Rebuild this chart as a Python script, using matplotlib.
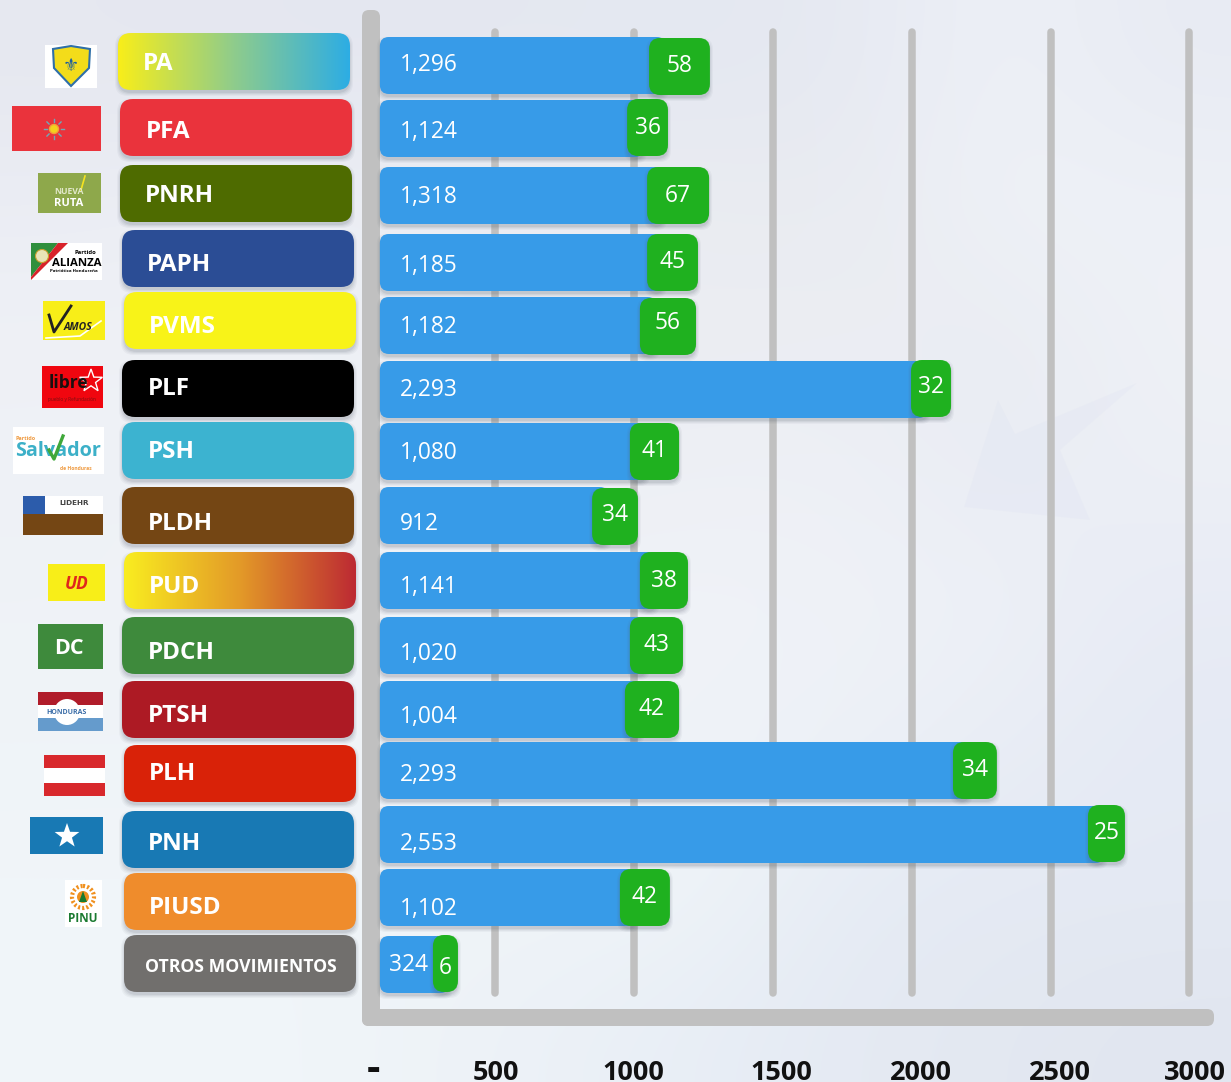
import numpy as np
import matplotlib
matplotlib.use("Agg")
import matplotlib.pyplot as plt
from matplotlib.patches import FancyBboxPatch, Rectangle, Circle, Polygon
from matplotlib.colors import LinearSegmentedColormap, to_rgb
from matplotlib.transforms import ScaledTranslation

# ---------- data ----------
parties = ["PA", "PFA", "PNRH", "PAPH", "PVMS", "PLF", "PSH", "PLDH", "PUD", "PDCH",
           "PTSH", "PLH", "PNH", "PIUSD", "OTROS MOVIMIENTOS"]
blue_labels = ["1,296", "1,124", "1,318", "1,185", "1,182", "2,293", "1,080", "912", "1,141",
               "1,020", "1,004", "2,293", "2,553", "1,102", "324"]
green_labels = ["58", "36", "67", "45", "56", "32", "41", "34", "38", "43", "42", "34", "25", "42", "6"]
# extents of the drawn bars, as read on the chart's own axis
green_start = [1055, 976, 1048, 1048, 1022, 1998, 986, 850, 1022, 986, 968, 2149, 2635, 950, 277]
green_end = [1274, 1123, 1271, 1231, 1224, 2142, 1163, 1015, 1195, 1177, 1163, 2307, 2768, 1130, 367]
tick_values = [0, 500, 1000, 1500, 2000, 2500, 3000]
tick_labels = ["-", "500", "1000", "1500", "2000", "2500", "3000"]

# ---------- layout (pixels) ----------
W, H = 1231, 1082
PX_PER_UNIT = 0.2778
X0_PX = 356
BAR_ORIGIN = 86
blue_top = [37, 100, 167, 234, 297, 361, 423, 487, 552, 617, 681, 742, 806, 869, 936]
green_top = [38, 99, 167, 234, 298, 360, 423, 488, 552, 617, 681, 742, 805, 869, 935]
blue_text_y = [65, 132, 197, 266, 327, 390, 453, 524, 587, 654, 717, 775, 844, 909, 965]
green_text_y = [66, 128, 196, 262, 323, 387, 451, 515, 581, 645, 709, 770, 833, 897, 968]
pill_left = [118, 120, 120, 122, 124, 122, 122, 122, 124, 122, 122, 124, 122, 124, 124]
pill_top = [33, 99, 165, 230, 292, 360, 422, 487, 552, 617, 681, 745, 811, 873, 935]
pill_text_x = [143, 146, 145, 147, 149, 148, 148, 148, 149, 148, 148, 149, 148, 149, 145]
pill_text_y = [64, 132, 196, 265, 327, 389, 452, 524, 587, 653, 716, 774, 844, 908, 967]
pill_colors = [None, "#ea333c", "#4e6b00", "#2b4d95", "#f8f318", "#000000", "#3cb3d0", "#744614",
               None, "#3e8a3c", "#ad1a24", "#d92208", "#1879b4", "#ef8c2c", "#716f6d"]
gradients = {0: ["#f8ee1a", "#8fcc8c", "#2dadE4"], 8: ["#f9ed20", "#e39a28", "#bd2a33"]}
BLUE, GREEN, GRID = "#379be8", "#1fb11f", "#c0c0c0"
SANS = "Open Sans"

fig = plt.figure(figsize=(W / 100, H / 100), dpi=100)

# pixel-space canvas for background, party pills and logos
deco = fig.add_axes([0, 0, 1, 1])
deco.set_xlim(0, W)
deco.set_ylim(H, 0)
deco.axis("off")

bg_rows = [
    ["#e6e8f0", "#e5e7f0", "#e4e7f0", "#e5e8f1", "#e4e8f1", "#e6e9f2", "#eef1f7", "#e8ebf3"],
    ["#ebedf4", "#edeff5", "#eceef4", "#eaecf2", "#ebedf2", "#e9ebf1", "#eff2f7", "#eef1f7"],
    ["#eff1f6", "#eff1f6", "#edf0f5", "#ecedf3", "#ebedf2", "#eceef3", "#e9ecf2", "#eff1f6"],
    ["#eef1f6", "#f0f2f7", "#eef1f6", "#edeff4", "#eef0f5", "#eef0f6", "#e9ecf4", "#edf0f6"],
    ["#eff3f7", "#f0f3f8", "#eff2f7", "#eff2f7", "#f0f3f8", "#eff2f7", "#eef1f7", "#e8ebf5"],
    ["#f0f4f8", "#f0f4f8", "#eff3f8", "#eff3f8", "#eff3f8", "#edf1f7", "#e9edf5", "#e5eaf4"],
    ["#f0f5f9", "#f0f5f9", "#f0f4f8", "#f0f5f8", "#f0f5f8", "#e6ecf5", "#e5eaf4", "#e5eaf4"],
    ["#f1f6fa", "#f1f6fa", "#eff4f8", "#ecf1f7", "#e8eef6", "#e5eaf3", "#e3e8f1", "#e1e6f0"],
]
bg = np.array([[to_rgb(c) for c in row] for row in bg_rows])
deco.imshow(bg, extent=(0, W, H, 0), interpolation="bicubic", aspect="auto", zorder=0)
deco.add_patch(Polygon([(964, 507), (998, 400), (1015, 434), (1137, 383), (1060, 450), (1090, 520)],
                       closed=True, facecolor="#dfe3f2", alpha=0.28, linewidth=0, zorder=0.5))
deco.set_xlim(0, W)
deco.set_ylim(H, 0)


def rbox(ax, x, y, w, h, r, aspect=1.0, **kw):
    p = FancyBboxPatch((x, y), w, h, boxstyle=f"round,pad=0,rounding_size={r}",
                       mutation_aspect=aspect, linewidth=0, **kw)
    ax.add_patch(p)
    return p


def shadow(ax, x, y, w, h, r, aspect=1.0, dx=0.0, z=1):
    for grow, a in [(3, 0.05), (2, 0.06), (1, 0.08), (0, 0.10)]:
        rbox(ax, x + dx - grow * (1 if aspect == 1 else 1 / PX_PER_UNIT), y + 3 - grow,
             w + 2 * grow * (1 if aspect == 1 else 1 / PX_PER_UNIT), h + 2 * grow, r, aspect,
             facecolor="#55606e", alpha=a, zorder=z)


# party pills
for i, name in enumerate(parties):
    x, y, w, h = pill_left[i], pill_top[i], 232, 57
    shadow(deco, x, y, w, h, 13, z=1)
    if i in gradients:
        p = rbox(deco, x, y, w, h, 13, facecolor="none", zorder=2)
        cmap = LinearSegmentedColormap.from_list(name, gradients[i])
        im = deco.imshow(np.linspace(0, 1, 256)[None, :], cmap=cmap, extent=(x, x + w, y + h, y),
                         aspect="auto", zorder=2)
        im.set_clip_path(p)
    else:
        rbox(deco, x, y, w, h, 13, facecolor=pill_colors[i], zorder=2)
    small = name.startswith("OTROS")
    deco.text(pill_text_x[i], pill_text_y[i], name, color="white", family=SANS, fontweight="bold",
              fontsize=12.7 if small else 17.5, va="center", ha="left", zorder=3)
deco.set_xlim(0, W)
deco.set_ylim(H, 0)


# ---------- logos ----------
def rect(x0, y0, x1, y1, c, z=3):
    deco.add_patch(Rectangle((x0, y0), x1 - x0, y1 - y0, facecolor=c, linewidth=0, zorder=z))


def star(cx, cy, r, **kw):
    ang = np.deg2rad(np.arange(10) * 36 - 90)
    rad = np.where(np.arange(10) % 2 == 0, r, r * 0.4)
    deco.add_patch(Polygon(np.c_[cx + rad * np.cos(ang), cy + rad * np.sin(ang)], closed=True, **kw))


def logo_text(x, y, s, c, size, **kw):
    deco.text(x, y, s, color=c, fontsize=size, ha="center", va="center", zorder=7, **kw)


# PA
rect(45, 45, 97, 88, "white")
deco.add_patch(Polygon([(53, 49), (71, 46), (90, 49), (89, 68), (71, 86), (54, 68)], closed=True,
                       facecolor="#f3dc1a", edgecolor="#2f6fa8", linewidth=1.5, zorder=4))
logo_text(71, 66, "⚜", "#1f5f9c", 13, family="DejaVu Sans")
# PFA
rect(12, 106, 101, 151, "#ea333c")
deco.add_patch(Circle((54, 129), 4.5, facecolor="#f3d21c", edgecolor="#f2a03a", linewidth=1, zorder=4))
for a in np.deg2rad(np.arange(0, 360, 45)):
    deco.plot([54 + 7 * np.cos(a), 54 + 10 * np.cos(a)], [129 + 7 * np.sin(a), 129 + 10 * np.sin(a)],
              color="#6fa9b8", lw=1, zorder=4)
# PNRH
rect(38, 173, 101, 213, "#8ea84b")
logo_text(69, 192, "NUEVA", "#e3e9cc", 6.2, family=SANS, fontweight="bold")
logo_text(69, 203, "RUTA", "white", 8, family=SANS, fontweight="bold")
deco.plot([81, 85], [190, 176], color="#f5e320", lw=1.2, zorder=5)
# PAPH
rect(31, 243, 102, 280, "white")
deco.add_patch(Polygon([(31, 243), (58, 243), (31, 277)], closed=True, facecolor="#2f8f3c", linewidth=0, zorder=4))
deco.add_patch(Polygon([(58, 243), (68, 243), (31, 280), (31, 277)], closed=True, facecolor="#d8222a", linewidth=0, zorder=4))
deco.add_patch(Circle((42, 256), 6.5, facecolor="#e9e4b8", edgecolor="#c8a030", linewidth=0.8, zorder=5))
logo_text(77, 263, "ALIANZA", "black", 8.2, family=SANS, fontweight="bold")
logo_text(85, 252.5, "Partido", "black", 4.2, family=SANS, fontweight="bold")
logo_text(74, 271, "Patriótica Hondureña", "black", 3.2, family=SANS, fontweight="bold")
# PVMS
rect(43, 301, 105, 340, "#f8ee18")
logo_text(78, 327, "AMOS", "#222222", 7.5, family=SANS, fontweight="bold", style="italic")
deco.plot([49, 54, 71], [315, 332, 306], color="#222222", lw=2, zorder=5)
deco.plot([46, 80, 101], [338, 336, 321], color="white", lw=1.2, zorder=5)
# PLF
rect(42, 366, 103, 408, "#f0060f")
logo_text(68, 383, "libre", "#1a1010", 12.5, family=SANS, fontweight="bold")
star(91, 381, 12, facecolor="none", edgecolor="white", linewidth=1, zorder=5)
logo_text(72, 400, "pueblo y Refundación", "#7a1010", 3.4, family=SANS)
# PSH
rect(13, 427, 104, 474, "white")
logo_text(58, 451, "Salvador", "#3cb0c8", 14.2, family=SANS, fontweight="bold")
logo_text(26, 438, "Partido", "#ef9a40", 4, family=SANS, fontweight="bold")
logo_text(76, 468, "de Honduras", "#ef9a40", 3.6, family=SANS, fontweight="bold")
deco.plot([49, 54, 63], [450, 459, 436], color="#3fa83a", lw=2.4, zorder=8)
# PLDH
rect(23, 496, 103, 535, "white")
rect(23, 514, 103, 535, "#744614")
rect(23, 496, 45, 514, "#2c5cab")
logo_text(74, 503, "LIDEHR", "#444444", 5.2, family="DejaVu Sans", fontweight="bold")
# PUD
rect(48, 564, 105, 601, "#f8ee18")
logo_text(77, 584, "UD", "#e0261c", 12.5, family=SANS, fontweight="bold", style="italic")
# PDCH
rect(38, 624, 103, 669, "#3e8a3c")
logo_text(69, 648, "DC", "white", 15.5, family=SANS, fontweight="bold")
# PTSH
rect(38, 692, 103, 705, "#b01c2a")
rect(38, 705, 103, 718, "white")
rect(38, 718, 103, 731, "#659bcc")
deco.add_patch(Circle((67, 712), 13, facecolor="white", linewidth=0, zorder=4))
logo_text(67, 713, "HONDURAS", "#3c6ea8", 5, family=SANS, fontweight="bold")
# PLH
rect(44, 755, 105, 796, "white")
rect(44, 755, 105, 768, "#d8282c")
rect(44, 783, 105, 796, "#d8282c")
# PNH
rect(30, 817, 103, 854, "#1879b4")
star(67, 836, 13, facecolor="white", linewidth=0, zorder=5)
# PIUSD
rect(65, 880, 102, 927, "white")
deco.add_patch(Circle((83, 897), 11, facecolor="none", edgecolor="#f0901e", linewidth=3, linestyle=(0, (0.5, 0.5)), zorder=4))
deco.add_patch(Circle((83, 897), 6, facecolor="#f0901e", linewidth=0, zorder=4))
deco.add_patch(Polygon([(83, 891), (87, 902), (79, 902)], closed=True, facecolor="#1a7a30", linewidth=0, zorder=5))
logo_text(83, 919, "PINU", "#1a7a30", 8.5, family=SANS, fontweight="bold")

# ---------- chart ----------
ax = fig.add_axes([X0_PX / W, 32 / H, 1 - X0_PX / W, 1 - 32 / H])
ax.patch.set_alpha(0)
ax.set_xlim(0, (W - X0_PX) / PX_PER_UNIT)
ax.set_ylim(H - 32, 0)
for s in ax.spines.values():
    s.set_visible(False)
ax.set_yticks([])

# grid lines
ax.vlines(tick_values[1:], 32, 993, color=GRID, lw=5.4, capstyle="round", zorder=1)
# frame
u = 1 / PX_PER_UNIT
rbox(ax, 6 * u, 10, 18 * u, 1016, 7 * u, PX_PER_UNIT, facecolor=GRID, zorder=1)
rbox(ax, 6 * u, 1009, 852 * u, 17, 7 * u, PX_PER_UNIT, facecolor=GRID, zorder=1)

# bars
for i in range(len(parties)):
    bw = green_start[i] + 60 - BAR_ORIGIN
    shadow(ax, BAR_ORIGIN, blue_top[i], bw, 57, 9 * u, PX_PER_UNIT, z=2)
    rbox(ax, BAR_ORIGIN, blue_top[i], bw, 57, 9 * u, PX_PER_UNIT, facecolor=BLUE, zorder=3)
    gw = green_end[i] - green_start[i]
    shadow(ax, green_start[i], green_top[i], gw, 57, 11 * u, PX_PER_UNIT, z=3)
    rbox(ax, green_start[i], green_top[i], gw, 57, 11 * u, PX_PER_UNIT, facecolor=GREEN, zorder=4)
    lx = 33 * u if blue_labels[i] == "324" else 44 * u
    ax.text(BAR_ORIGIN - 24 * u + lx, blue_text_y[i], blue_labels[i], color="white", family=SANS,
            fontsize=16.4, ha="left", va="center", zorder=5)
    ax.text((green_start[i] + green_end[i]) / 2, green_text_y[i], green_labels[i], color="white",
            family=SANS, fontsize=16.4, ha="center", va="center", zorder=5)

# tick labels
ax.set_xticks(tick_values)
ax.set_xticklabels(tick_labels, family=SANS, fontweight="bold", fontsize=19.5, color="#111111")
ax.tick_params(axis="x", length=0, pad=7)
tick_shift = [17, 1, 0, 9, 9, 9, 6]
for lab, dx in zip(ax.get_xticklabels(), tick_shift):
    lab.set_transform(lab.get_transform() + ScaledTranslation(dx / 100, 0, fig.dpi_scale_trans))
dash = ax.get_xticklabels()[0]
dash.set_fontsize(30)
dash.set_transform(dash.get_transform() + ScaledTranslation(0, 0.10, fig.dpi_scale_trans))

fig.savefig("out.png", dpi=100)
